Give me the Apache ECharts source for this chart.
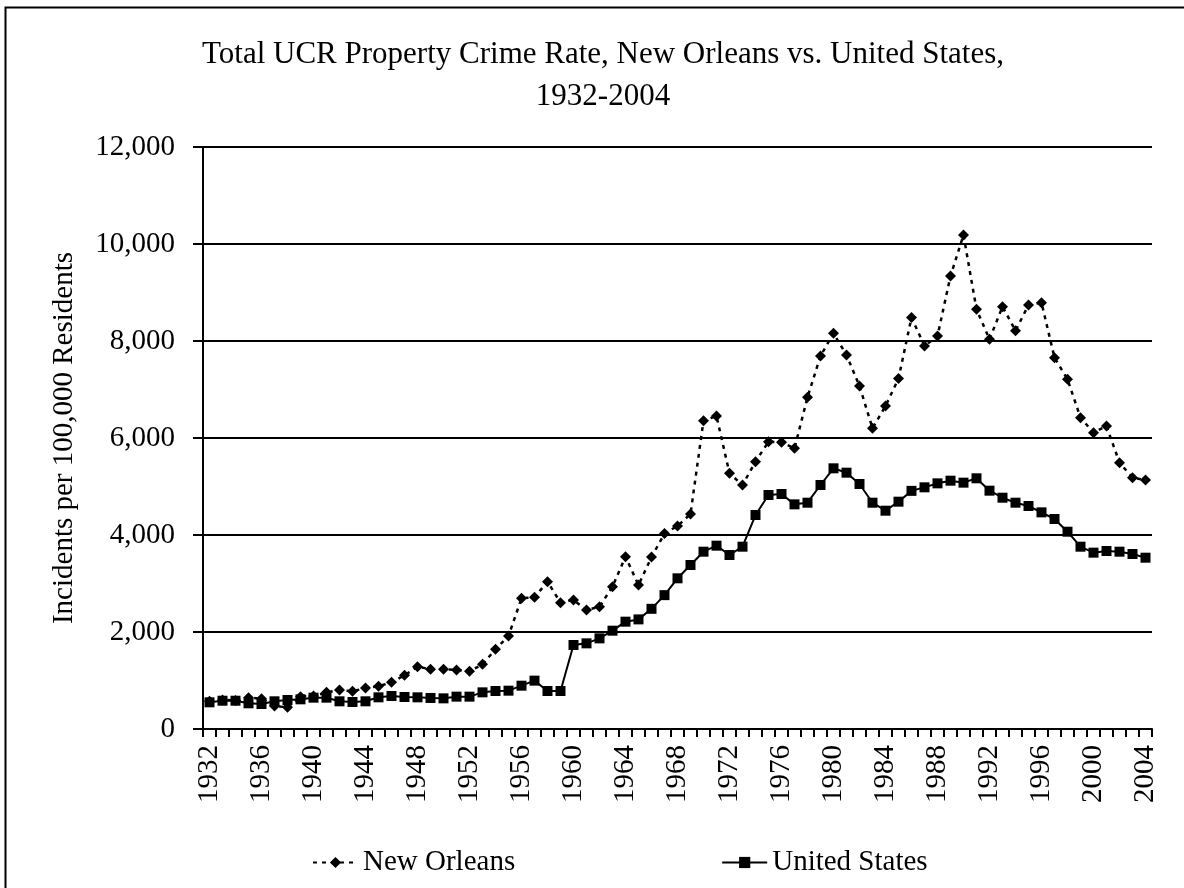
<!DOCTYPE html>
<html>
<head>
<meta charset="utf-8">
<script src="https://cdn.jsdelivr.net/npm/echarts@6/dist/echarts.min.js"></script>
<style>html,body{margin:0;padding:0;background:#fff;}#c{width:1184px;height:888px;}</style>
</head>
<body>
<div id="c"></div>
<script>
const years = [];
for (let y = 1932; y <= 2004; y++) years.push(String(y));

const newOrleans = [570,600,590,646,625,474,447,667,680,756,804,777,845,880,962,1107,1285,1230,1230,1216,
  1189,1333,1643,1918,2694,2715,3038,2605,2660,2454,2522,2935,3553,2969,3545,4030,4186,4433,6357,6454,
  5271,5031,5512,5924,5910,5787,6839,7691,8158,7711,7072,6200,6660,7225,8485,7897,8103,9340,10186,8653,
  8035,8708,8213,8742,8790,7656,7210,6419,6110,6247,5491,5182,5134];

const unitedStates = [550,583,583,530,515,571,598,612,646,646,571,557,571,653,680,660,653,640,632,667,
  667,756,783,790,893,997,783,783,1732,1766,1869,2027,2213,2260,2478,2760,3107,3381,3656,3780,
  3588,3759,4412,4825,4845,4632,4666,5031,5375,5285,5052,4666,4501,4687,4910,4983,5065,5120,5079,5169,
  4914,4769,4666,4598,4467,4330,4068,3759,3636,3670,3656,3608,3532];

const seriesNames = ['New Orleans', 'United States'];
const titleText = 'Total UCR Property Crime Rate, New Orleans vs. United States,\n1932-2004';
const yAxisTitle = 'Incidents per 100,000 Residents';

const FONT = '"Liberation Serif", "Times New Roman", serif';
const chart = echarts.init(document.getElementById('c'));
chart.setOption({
  animation: false,
  backgroundColor: '#fff',
  textStyle: { fontFamily: FONT, color: '#000' },
  graphic: [{
    type: 'rect', left: 3, top: 5, shape: { width: 1300, height: 1000 },
    style: { fill: 'none', stroke: '#000', lineWidth: 2 }, silent: true
  }],
  title: {
    text: titleText,
    left: 598, textAlign: 'center', top: 29,
    textStyle: { fontFamily: FONT, fontSize: 31, fontWeight: 'normal', color: '#000', lineHeight: 42 }
  },
  legend: {
    left: 307, top: 843, itemGap: 206, itemWidth: 45, itemHeight: 14,
    textStyle: { fontFamily: FONT, fontSize: 29, color: '#000' },
    data: seriesNames
  },
  grid: { left: 203, right: 32, top: 147, bottom: 159, containLabel: false,
    show: true, borderColor: 'transparent' },
  xAxis: {
    type: 'category', data: years, boundaryGap: true,
    axisLine: { lineStyle: { color: '#000', width: 2 } },
    axisTick: { show: true, interval: 0, length: 8, lineStyle: { color: '#000', width: 2 } },
    axisLabel: { interval: 3, rotate: 90, margin: 16, fontFamily: FONT, fontSize: 29, color: '#000' },
    splitLine: { show: false }
  },
  yAxis: {
    type: 'value', min: 0, max: 12000, interval: 2000,
    name: yAxisTitle, nameLocation: 'middle', nameGap: 124, nameRotate: 90,
    nameTextStyle: { fontFamily: FONT, fontSize: 29, color: '#000' },
    axisLine: { show: true, lineStyle: { color: '#000', width: 2 } },
    axisTick: { show: true, length: 10, lineStyle: { color: '#000', width: 2 } },
    axisLabel: { margin: 28, fontFamily: FONT, fontSize: 29, color: '#000',
      formatter: v => v.toLocaleString('en-US') },
    splitLine: { show: true, lineStyle: { color: '#000', width: 2 } }
  },
  series: [
    {
      name: seriesNames[0], type: 'line', data: newOrleans,
      symbol: 'diamond', symbolSize: 11, showSymbol: true, showAllSymbol: true,
      itemStyle: { color: '#000' },
      lineStyle: { color: '#000', width: 2.5, type: [4, 5] }
    },
    {
      name: seriesNames[1], type: 'line', data: unitedStates,
      symbol: 'rect', symbolSize: 10, showSymbol: true, showAllSymbol: true,
      itemStyle: { color: '#000' },
      lineStyle: { color: '#000', width: 2 }
    }
  ]
});
</script>
</body>
</html>
